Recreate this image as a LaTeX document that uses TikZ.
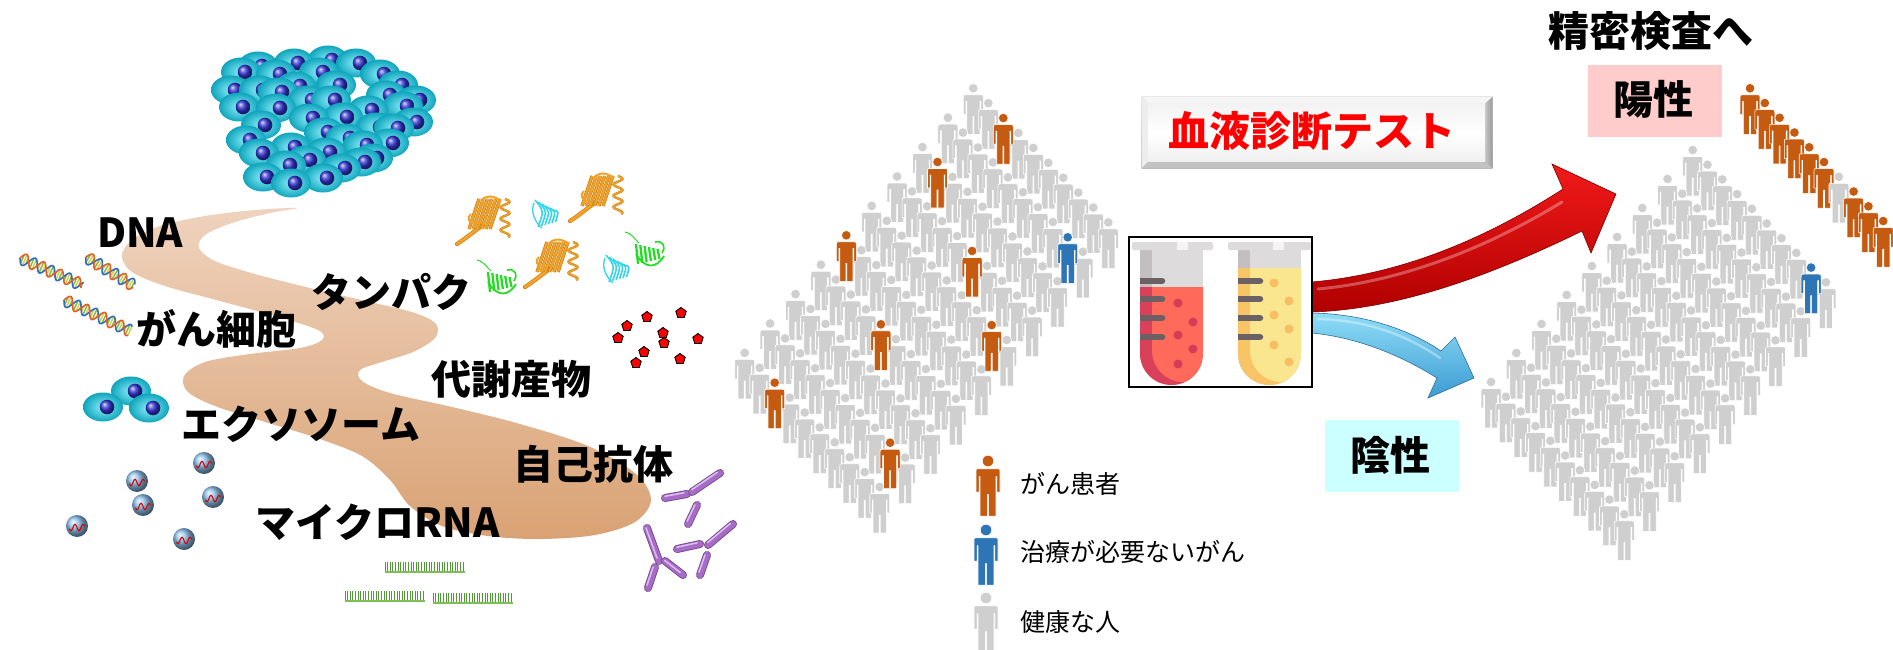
\documentclass[tikz,border=0pt]{standalone}
\usepackage{fontspec}
\setmainfont{Noto Sans CJK JP}
\usetikzlibrary{calc}

\definecolor{pgray}{HTML}{CFCFCF}
\definecolor{porange}{HTML}{C55A11}
\definecolor{pblue}{HTML}{2E75B6}
\definecolor{bandtop}{HTML}{EFD3BE}
\definecolor{bandbot}{HTML}{D9A274}
\definecolor{cellin}{HTML}{8DEFFA}
\definecolor{cellout}{HTML}{0FA5BD}
\definecolor{nucblue}{HTML}{3434D8}
\definecolor{sphcol}{HTML}{8EC3EC}
\definecolor{orprot}{HTML}{F2A22A}
\definecolor{orprotd}{HTML}{C8800F}
\definecolor{cyprot}{HTML}{33D6E8}
\definecolor{grprot}{HTML}{22DD22}
\definecolor{abpurple}{HTML}{A66CC8}
\definecolor{ablight}{HTML}{DDBDEE}
\definecolor{mgreen}{HTML}{7DBE55}
\definecolor{mgreend}{HTML}{4F9A35}
\definecolor{redtop}{HTML}{F21A1A}
\definecolor{redbot}{HTML}{B00000}
\definecolor{reddark}{HTML}{7A0000}
\definecolor{bluetop}{HTML}{8FDDF7}
\definecolor{bluebot}{HTML}{3C9BD2}
\definecolor{bluedark}{HTML}{2A6E9A}
\definecolor{posbox}{HTML}{FFCCCC}
\definecolor{negbox}{HTML}{CCFFFF}
\definecolor{capgray}{HTML}{DDDBDC}
\definecolor{capedge}{HTML}{C3BFC1}
\definecolor{tickgray}{HTML}{6B6165}
\definecolor{lredA}{HTML}{FF6A5A}
\definecolor{lredB}{HTML}{D9405A}
\definecolor{ldot}{HTML}{D63C57}
\definecolor{lyelA}{HTML}{FAE68E}
\definecolor{lyelB}{HTML}{F8C466}
\definecolor{ydot}{HTML}{F7BE63}
\definecolor{helixA}{HTML}{2F6FC0}
\definecolor{helixB}{HTML}{E0602A}
\definecolor{rungA}{HTML}{D8CC55}
\definecolor{rungB}{HTML}{86B84A}

\newcommand\fs[1]{\fontsize{#1bp}{#1bp}\selectfont}

% a standing figure, head centre at (#1,#2), scale #3, colour #4
\newcommand\drawperson[4]{%
  \begin{scope}[shift={(#1,#2)}, scale=#3]
    \fill[#4, draw=white, line width=0.6] (0,0) circle[radius=4.8];
    \fill[#4, draw=white, line width=0.6] (-10,26) -- (-10,9.5) .. controls (-10,6.5) .. (-7,6.5)
      -- (7,6.5) .. controls (10,6.5) .. (10,9.5) -- (10,26) -- (7.4,26) -- (7.4,13) -- (6.6,13)
      -- (6.6,46) -- (0.5,46) -- (0.5,28) -- (-0.5,28) -- (-0.5,46) -- (-6.6,46) -- (-6.6,13)
      -- (-7.4,13) -- (-7.4,26) -- cycle;
  \end{scope}}

% a cell with its nucleus
\newcommand\drawcell[2]{%
  \shade[inner color=cellin, outer color=cellout] (#1,#2) ellipse[x radius=20, y radius=14.5];
  \shade[ball color=nucblue] ($(#1,#2)+(4,0)$) circle[radius=7.3];}

% a DNA double helix starting at (#1,#2), turned by #3, length #4
\newcommand\drawhelix[4]{%
  \begin{scope}[shift={(#1,#2)}, rotate=#3]
    \foreach \t [count=\c] in {0,2.6,...,#4}{%
      \ifodd\c \def\rc{rungA}\else\def\rc{rungB}\fi
      \draw[\rc, line width=1.5] (\t,{6*sin(\t*19)}) -- (\t,{-6*sin(\t*19)});}
    \draw[helixA, line width=1.6] plot[domain=0:#4, samples=70] (\x,{6*sin(\x*19)});
    \draw[helixB, line width=1.6] plot[domain=0:#4, samples=70] (\x,{-6*sin(\x*19)});
  \end{scope}}

% a small RNA-carrying sphere
\newcommand\drawsphere[2]{%
  \shade[ball color=sphcol] (#1,#2) circle[radius=11];
  \begin{scope}[shift={(#1,#2)}]
    \draw[red!85!black, line width=1.1] plot[domain=-7.5:7.5, samples=25] (\x,{1.5+3.2*sin(\x*45)});
  \end{scope}}

% a metabolite pentagon
\newcommand\drawpent[2]{%
  \begin{scope}[shift={(#1,#2)}]
    \filldraw[fill=red, draw=black, line width=0.9] (-90:5.5) -- (-18:5.5) -- (54:5.5) -- (126:5.5) -- (198:5.5) -- cycle;
  \end{scope}}

% a short strand of microRNA
\newcommand\drawmbar[3]{%
  \begin{scope}[shift={(#1,#2)}]
    \foreach \k in {0,2.6,...,#3}{\draw[mgreend, line width=0.7] (\k,0) -- (\k,-10);}
    \draw[mgreen, line width=2] (0,0) -- (#3,0);
  \end{scope}}

% one bar of an antibody
\newcommand\drawab[4]{%
  \draw[abpurple!70!black, line width=8, line cap=round] (#1,#2) -- (#3,#4);
  \draw[abpurple, line width=6.2, line cap=round] (#1,#2) -- (#3,#4);
  \draw[ablight, line width=1.6, line cap=round, shorten >=1.5, shorten <=1.5] ($(#1,#2)+(-1.5,-1.5)$) -- ($(#3,#4)+(-1.5,-1.5)$);}

% protein ribbons
\newcommand\protorange[2]{%
  \begin{scope}[shift={(#1,#2)}]
    \draw[orprotd, line width=4.2, line cap=round] (26,30) .. controls (15,38) and (8,44) .. (0,49);
    \draw[orprot, line width=3, line cap=round] (26,30) .. controls (15,38) and (8,44) .. (0,49);
    \foreach \k in {0,...,5}{%
      \draw[orprotd, line width=3.4] (12+4.2*\k,34) -- (22+4.2*\k,4);
      \draw[orprot, line width=2.2] (12+4.2*\k,34) -- (22+4.2*\k,4);}
    \draw[orprotd, line width=2.4] plot[domain=0:38, samples=60] ({48+4.5*sin(\x*32)},\x+4);
    \draw[orprot, line width=1.4] plot[domain=0:38, samples=60] ({48+4.5*sin(\x*32)},\x+4);
    \draw[orprot, line width=2] (20,30) .. controls (12,28) and (9,23) .. (14,19);
    \draw[orprot, line width=2] (24,6) .. controls (28,0) and (36,0) .. (44,6);
  \end{scope}}
\newcommand\protcyan[2]{%
  \begin{scope}[shift={(#1,#2)}]
    \foreach \k in {0,...,5}{%
      \draw[cyprot, line width=1.6] (3+3.5*\k,3+2*\k) .. controls (12+3*\k,14) .. (6+3.5*\k,30-\k);}
    \draw[cyprot, line width=1.3] (2,6) .. controls (-2,16) and (4,26) .. (10,31);
  \end{scope}}
\newcommand\protgreen[2]{%
  \begin{scope}[shift={(#1,#2)}]
    \draw[grprot, line width=1] (0,0) .. controls (8,2) and (10,8) .. (14,11);
    \foreach \k in {0,...,5}{%
      \draw[grprot, line width=2.3] (11+4.3*\k,12+\k) -- (13+4.3*\k,32-\k);}
    \draw[grprot, line width=1.8] (11,22) .. controls (20,37) and (31,37) .. (39,24);
    \draw[grprot, line width=1.6] (30,10) .. controls (39,8) and (41,16) .. (37,21);
  \end{scope}}

\tikzset{
  lbl/.style={anchor=base west, inner sep=0pt, font=\fs{40}\bfseries},
  legtext/.style={anchor=base west, inner sep=0pt, font=\fs{25}},
}

\begin{document}
\begin{tikzpicture}[x=1bp, y=-1bp]
\useasboundingbox (0,0) rectangle (1893,650);
\fill[white] (0,0) rectangle (1893,650);

% ---------- winding path of blood ----------
\shade[top color=bandtop, bottom color=bandbot]
  plot[smooth cycle, tension=0.55] coordinates {
  (297,208) (255,210) (205,216) (160,226) (132,240) (122,256) (132,272) (165,286)
  (220,301) (275,316) (318,330) (322,340) (300,348) (250,354) (205,362) (184,376)
  (188,392) (215,406) (262,421) (317,438) (362,456) (390,480) (410,506) (442,526)
  (488,536) (540,539) (595,535) (635,522) (651,500) (636,474) (588,446) (520,424)
  (452,407) (390,393) (362,381) (360,370) (382,362) (413,352) (435,338) (436,324)
  (415,313) (370,302) (310,288) (255,274) (215,261) (199,248) (205,235) (232,223)
  (270,213)};

% ---------- tumour ----------
\foreach \cx/\cy in {
  332/60, 298/63, 360/63, 262/66, 245/72, 323/72, 280/74, 384/74, 300/86, 340/85, 402/85,
  235/90, 263/90, 282/92, 390/95, 312/100, 335/100, 420/100, 407/106, 243/107, 280/108,
  372/110, 347/117, 313/118, 417/122, 265/125, 380/127, 398/128, 328/132, 350/138, 250/140,
  393/143, 367/145, 295/147, 263/153, 330/152, 377/158, 310/160, 365/162, 290/165, 345/168,
  267/177, 327/178, 295/183}{\drawcell{\cx-4}{\cy}}

% ---------- cancer cells ----------
\drawcell{131}{391}
\drawcell{103}{407}
\drawcell{149}{408}

% ---------- DNA ----------
\drawhelix{20}{258}{-23.5}{68}
\drawhelix{86}{257}{-31}{56}
\drawhelix{64}{300}{-25}{73}

% ---------- exosomes with microRNA ----------
\foreach \sx/\sy in {204/463, 137/481, 213/497, 143/505, 77/526, 184/539}{\drawsphere{\sx}{\sy}}

% ---------- microRNA strands ----------
\drawmbar{385}{572}{80}
\drawmbar{345}{601}{80}
\drawmbar{433}{603}{80}

% ---------- proteins ----------
\protorange{457}{195}
\protorange{570}{172}
\protorange{525}{238}
\protcyan{532}{197}
\protcyan{603}{252}
\protgreen{477}{260}
\protgreen{625}{232}

% ---------- metabolites ----------
\foreach \mx/\my in {647/317, 681/313, 627/326, 663/333, 618/338, 698/339, 664/343, 644/352, 680/359, 636/363}{\drawpent{\mx}{\my}}

% ---------- autoantibodies ----------
\drawab{665}{498}{687}{494}
\drawab{692}{492}{720}{473}
\drawab{697}{505}{688}{524}
\drawab{647}{528}{659}{561}
\drawab{665}{561}{683}{575}
\drawab{655}{567}{648}{588}
\drawab{708}{545}{733}{524}
\drawab{677}{549}{700}{544}
\drawab{707}{555}{700}{575}

% ---------- labels on the left ----------
\node[lbl] (dna) at (97,247) {DNA};
\node[lbl] (gansaibou) at (136,344) {がん細胞};
\node[lbl] (tanpaku) at (311,307) {タンパク};
\node[lbl] (taisha) at (431,394) {代謝産物};
\node[lbl] (exo) at (181,439) {エクソソーム};
\node[lbl] (jiko) at (513,479) {自己抗体};
\node[lbl] (mirna) at (255,537) {マイクロRNA};

% ---------- screened population ----------
\foreach \j in {0,...,9}{\foreach \i in {0,...,9}{%
  \pgfmathsetmacro\px{973.3+15*\i-25.4*\j}\pgfmathsetmacro\py{88.3+14.9*\i+29.4*\j}%
  \drawperson{\px}{\py}{1}{pgray}}}
\foreach \i/\j in {2/0,1/2,0/5,5/3,4/6,8/4,2/9,8/8}{%
  \pgfmathsetmacro\px{973.3+15*\i-25.4*\j}\pgfmathsetmacro\py{88.3+14.9*\i+29.4*\j}%
  \drawperson{\px}{\py}{1}{porange}}
\drawperson{1067.7}{237.3}{1}{pblue}

% ---------- legend ----------
\drawperson{988}{461}{1.2}{porange}
\drawperson{986}{530}{1.2}{pblue}
\drawperson{986}{598}{1.2}{pgray}
\node[legtext] (leg1) at (1020,493) {がん患者};
\node[legtext] (leg2) at (1020,561) {治療が必要ないがん};
\node[legtext] (leg3) at (1020,631) {健康な人};

% ---------- test title ----------
\shade[top color=gray!25, bottom color=gray!55] (1141.7,96.7) rectangle (1492.7,168.3);
\fill[gray!8] (1141.7,96.7) -- (1492.7,96.7) -- (1485,103.5) -- (1148.5,103.5) -- cycle;
\fill[gray!14] (1141.7,96.7) -- (1148.5,103.5) -- (1148.5,161.5) -- (1141.7,168.3) -- cycle;
\fill[gray!48] (1141.7,168.3) -- (1492.7,168.3) -- (1485,161.5) -- (1148.5,161.5) -- cycle;
\shade[left color=gray!45, right color=gray!80] (1492.7,96.7) -- (1492.7,168.3) -- (1485,161.5) -- (1485,103.5) -- cycle;
\shade[top color=gray!10, bottom color=gray!12, middle color=white] (1148.5,103.5) rectangle (1485,161.5);
\node[anchor=base west, inner sep=0pt, font=\fs{41}\bfseries, text=red] (testtitle) at (1168,147) {血液診断テスト};

% ---------- result arrows ----------
\coordinate (arrowroot) at (1312,297);
\shade[top color=redtop, bottom color=redbot, draw=reddark, line width=0.6]
  (1312,282) .. controls (1405,274) and (1490,236) .. (1563,189) -- (1552,164) -- (1616,194)
  -- (1591,253) -- (1582,231) .. controls (1500,271) and (1405,309) .. (1312,312) -- cycle;
\draw[white, opacity=0.3, line width=3, line cap=round] (1318,289) .. controls (1405,281) and (1490,246) .. (1562,202);
\shade[top color=bluetop, bottom color=bluebot, draw=bluedark, line width=0.6]
  (1312,313) .. controls (1365,314) and (1410,330) .. (1441,351) -- (1455,337) -- (1474,378)
  -- (1428,398) -- (1437,378) .. controls (1405,358) and (1362,338) .. (1312,333) -- cycle;
\draw[white, opacity=0.35, line width=2.5, line cap=round] (1318,319) .. controls (1365,320) and (1405,334) .. (1440,358);

% ---------- blood sample tubes ----------
\fill[white] (1129,237) rectangle (1312,387);
\begin{scope}[shift={(1140,0)}]
  \begin{scope}
    \clip (0,249) -- (0,353.5) arc[start angle=180, end angle=0, radius=31.5] -- (63,249) -- cycle;
    \fill[capgray] (0,249) rectangle (63,390);
    \fill[capedge] (0,249) rectangle (12,390);
    \fill[lredB] (0,287) rectangle (63,390);
    \fill[lredA] (12,287) -- (12,350.5) arc[start angle=180, end angle=0, radius=31.5] -- (75,287) -- cycle;
    \foreach \ty in {281,299,318,337}{\draw[tickgray, line width=6.5, line cap=round] (-5,\ty) -- (22,\ty);}
    \foreach \dx/\dy in {38/303, 53/322, 38/335, 53/349, 38/364}{\fill[ldot] (\dx,\dy) circle[radius=4.5];}
  \end{scope}
  \fill[capgray, rounded corners=2] (-8,242) rectangle (73,250);
  \fill[gray!8] (37,242) rectangle (48,250);
\end{scope}
\begin{scope}[shift={(1238,0)}]
  \begin{scope}
    \clip (0,249) -- (0,353.5) arc[start angle=180, end angle=0, radius=31.5] -- (63,249) -- cycle;
    \fill[capgray] (0,249) rectangle (63,390);
    \fill[capedge] (0,249) rectangle (12,390);
    \fill[lyelB] (0,268) rectangle (63,390);
    \fill[lyelA] (12,268) -- (12,350.5) arc[start angle=180, end angle=0, radius=31.5] -- (75,268) -- cycle;
    \foreach \ty in {281,299,318,337}{\draw[tickgray, line width=6.5, line cap=round] (-5,\ty) -- (22,\ty);}
    \foreach \dx/\dy in {36/283, 51/301, 36/315, 51/329, 36/345, 51/362}{\fill[ydot] (\dx,\dy) circle[radius=4.5];}
  \end{scope}
  \fill[capgray, rounded corners=2] (-10,242) rectangle (73,250);
  \fill[gray!8] (35,242) rectangle (46,250);
\end{scope}
\draw[black, line width=1.8] (1129,237) rectangle (1312,387);

% ---------- result labels ----------
\fill[negbox] (1325,420) rectangle (1459,492);
\node[anchor=base west, inner sep=0pt, font=\fs{40}\bfseries] (negative) at (1350,470) {陰性};
\fill[posbox] (1588,65) rectangle (1722,137);
\node[anchor=base west, inner sep=0pt, font=\fs{40}\bfseries] (positive) at (1613,115) {陽性};
\node[anchor=base west, inner sep=0pt, font=\fs{41}\bfseries] (followup) at (1548,47) {精密検査へ};

% ---------- population after the test ----------
\foreach \j in {0,...,8}{\foreach \i in {0,...,9}{%
  \pgfmathsetmacro\px{1692.7+14.8*\i-25.2*\j}\pgfmathsetmacro\py{150+14.7*\i+29*\j}%
  \drawperson{\px}{\py}{1}{pgray}}}
\drawperson{1811.1}{267.6}{1}{pblue}
\foreach \k in {0,...,9}{%
  \pgfmathsetmacro\px{1750+14.8*\k}\pgfmathsetmacro\py{88.3+14.75*\k}%
  \ifnum\k=6 \drawperson{\px}{\py}{1}{pgray}\else\drawperson{\px}{\py}{1}{porange}\fi}
\end{tikzpicture}
\end{document}
